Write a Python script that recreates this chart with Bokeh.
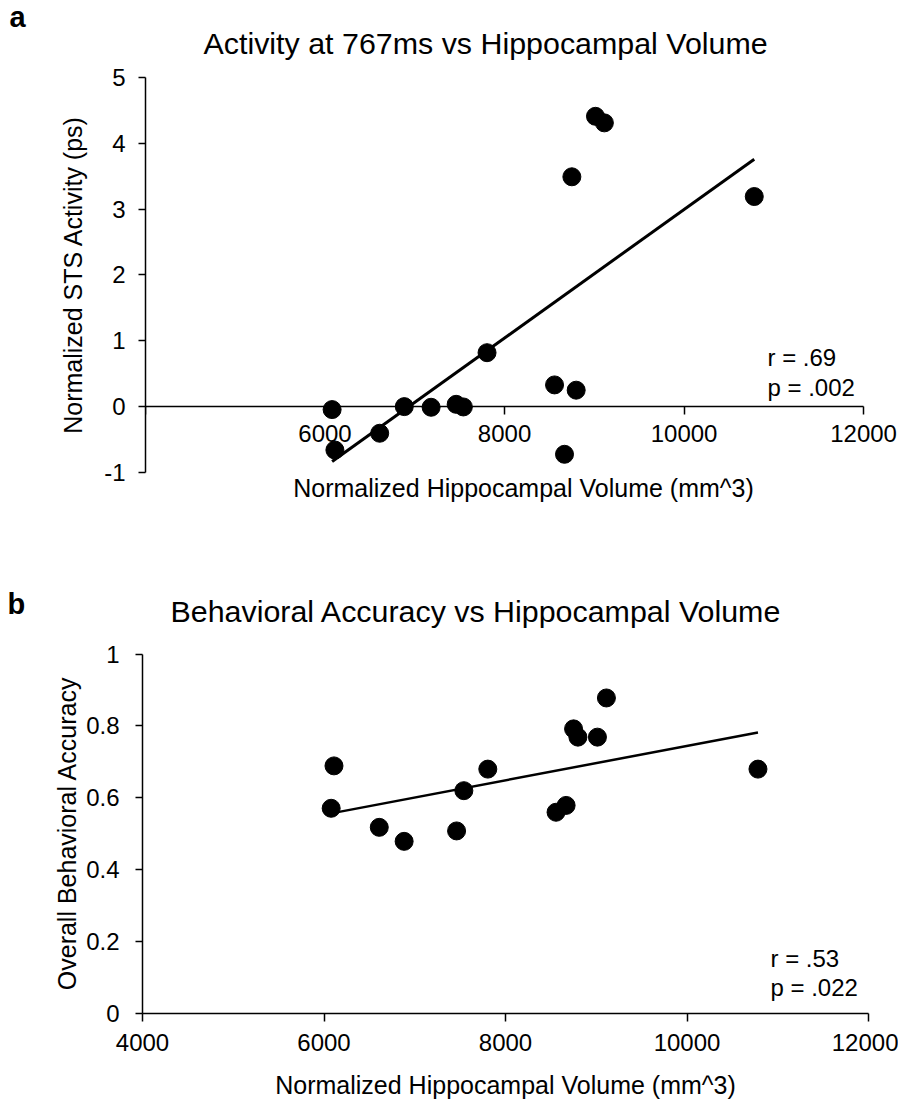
import numpy as np
from bokeh.plotting import figure
from bokeh.models import Range1d, FixedTicker, Label
from bokeh.layouts import column, row
from bokeh.embed import file_html
from bokeh.resources import INLINE

FONT = "Liberation Sans"

# ---------------- data ----------------
# Panel a: STS activity vs hippocampal volume (15 subjects)
volume_a = [6079, 6110, 6609, 6883, 7182, 7461, 7541, 7805, 8557, 8668, 8750, 8798, 9013, 9112, 10782]
sts_activity = [-0.05, -0.665, -0.41, -0.005, -0.015, 0.03, -0.01, 0.815, 0.325, -0.73, 3.49, 0.245, 4.41, 4.31, 3.19]

# Panel b: behavioral accuracy vs hippocampal volume (14 subjects)
volume_b = [6079, 6110, 6609, 6883, 7461, 7541, 7805, 8557, 8668, 8750, 8798, 9013, 9112, 10782]
accuracy = [0.571, 0.689, 0.518, 0.479, 0.508, 0.620, 0.680, 0.560, 0.579, 0.792, 0.769, 0.769, 0.878, 0.680]

x_ticks = [4000, 6000, 8000, 10000, 12000]
y_ticks_a = [-1, 0, 1, 2, 3, 4, 5]
y_tick_labels_a = ["-1", "0", "1", "2", "3", "4", "5"]
y_ticks_b = [0, 0.2, 0.4, 0.6, 0.8, 1]
y_tick_labels_b = ["0", "0.2", "0.4", "0.6", "0.8", "1"]

title_a = "Activity at 767ms vs Hippocampal Volume"
title_b = "Behavioral Accuracy vs Hippocampal Volume"
xlabel = "Normalized Hippocampal Volume (mm^3)"
ylabel_a = "Normalized STS Activity (ps)"
ylabel_b = "Overall Behavioral Accuracy"
stats_a = ["r = .69", "p = .002"]
stats_b = ["r = .53", "p = .022"]
panel_letters = ["a", "b"]

# plotting ranges (padded beyond the axes so that titles / labels sit inside the frame)
XR_A = (4000, 12400)
YR_A = (-1.6, 6.171)
XR_B = (4000, 12000)
YR_B = (0, 1.2577)
SIDE_W_A = 88   # width of the left strip holding panel letter + y-axis title
SIDE_W_B = 82


def base_style(p):
    p.outline_line_color = None
    p.grid.visible = False
    p.background_fill_color = "white"
    p.border_fill_color = "white"
    for ax in list(p.xaxis) + list(p.yaxis):
        ax.axis_line_color = "black"
        ax.axis_line_width = 1.5
        ax.major_tick_line_color = "black"
        ax.major_tick_line_width = 1.5
        ax.major_tick_in = 0
        ax.minor_tick_in = 0
        ax.minor_tick_out = 0
        ax.major_label_text_font = FONT
        ax.major_label_text_font_size = "24px"
        ax.major_label_text_color = "black"
        ax.axis_label_text_font = FONT
        ax.axis_label_text_font_size = "25px"
        ax.axis_label_text_font_style = "normal"
        ax.axis_label_text_color = "black"


def fit_line(x, y):
    k, b = np.polyfit(np.array(x, float), np.array(y, float), 1)
    xs = np.array([min(x), max(x)], float)
    return xs, k * xs + b


def text_label(x, y, dx, dy, text, size, bold=False, align="left", baseline="alphabetic", angle=0.0):
    return Label(x=x, y=y, x_offset=dx, y_offset=dy, text=text, text_font=FONT,
                 text_font_size=size, text_font_style="bold" if bold else "normal",
                 text_color="black", text_align=align, text_baseline=baseline,
                 angle=angle, level="overlay")


def side_figure(width, height, yr, letter, letter_y, letter_dx, letter_up, ylabel, ylabel_y, ylabel_x):
    f = figure(width=width, height=height, x_range=Range1d(0, width), y_range=Range1d(*yr),
               x_axis_type=None, y_axis_type=None, output_backend="svg", toolbar_location=None,
               min_border=0)
    f.outline_line_color = None
    f.grid.visible = False
    f.background_fill_color = "white"
    f.border_fill_color = "white"
    f.add_layout(text_label(0, letter_y, letter_dx, letter_up, letter, "29px", bold=True))
    f.add_layout(text_label(ylabel_x, ylabel_y, 0, 0, ylabel, "25px", align="center",
                            baseline="middle", angle=np.pi / 2))
    return f


# ---------------- panel a ----------------
pa = figure(frame_width=754, frame_height=511, x_range=Range1d(*XR_A), y_range=Range1d(*YR_A),
            output_backend="svg", toolbar_location=None,
            min_border_left=145 - SIDE_W_A, min_border_right=0, min_border_top=0, min_border_bottom=50)
base_style(pa)

xa = pa.xaxis[0]
xa.fixed_location = 0
xa.bounds = (x_ticks[0], x_ticks[-1])
xa.ticker = FixedTicker(ticks=x_ticks)
xa.major_label_overrides = {4000: ""}
xa.major_tick_out = 8
xa.major_label_standoff = 11
xa.axis_label = None

ya = pa.yaxis[0]
ya.bounds = (y_ticks_a[0], y_ticks_a[-1])
ya.ticker = FixedTicker(ticks=y_ticks_a)
ya.major_label_overrides = {t: s for t, s in zip(y_ticks_a, y_tick_labels_a)}
ya.major_tick_out = 7
ya.major_label_standoff = 13
ya.axis_label = None

lx, ly = fit_line(volume_a, sts_activity)
pa.line(lx, ly, line_color="black", line_width=3)
pa.scatter(volume_a, sts_activity, size=18, fill_color="black", line_color="black")

pa.add_layout(text_label(4000, 5, 58, 35, title_a, "30.4px"))
pa.add_layout(text_label(4000, -1, 378, -16, xlabel, "25px", align="center"))
for i, s in enumerate(stats_a):
    pa.add_layout(text_label(4000, 5, 622, -(280 + 30 * i), s, "24px"))

# ---------------- panel b ----------------
pb = figure(frame_width=726, frame_height=452, x_range=Range1d(*XR_B), y_range=Range1d(*YR_B),
            output_backend="svg", toolbar_location=None,
            min_border_left=142 - SIDE_W_B, min_border_right=30, min_border_top=0, min_border_bottom=87)
base_style(pb)

xb = pb.xaxis[0]
xb.ticker = FixedTicker(ticks=x_ticks)
xb.major_tick_out = 8
xb.major_label_standoff = 12
xb.axis_label = xlabel
xb.axis_label_standoff = 17

yb = pb.yaxis[0]
yb.bounds = (y_ticks_b[0], y_ticks_b[-1])
yb.ticker = FixedTicker(ticks=y_ticks_b)
yb.major_label_overrides = {t: s for t, s in zip(y_ticks_b, y_tick_labels_b)}
yb.major_tick_out = 7
yb.major_label_standoff = 16
yb.axis_label = None

lx, ly = fit_line(volume_b, accuracy)
pb.line(lx, ly, line_color="black", line_width=2.5)
pb.scatter(volume_b, accuracy, size=18, fill_color="black", line_color="black")

pb.add_layout(text_label(4000, 1, 28, 43, title_b, "30.4px"))
for i, s in enumerate(stats_b):
    pb.add_layout(text_label(4000, 1, 628, -(304 + 29 * i), s, "24px"))

sa = side_figure(SIDE_W_A, 561, YR_A, panel_letters[0], 5, 9, 61, ylabel_a,
                 (y_ticks_a[0] + y_ticks_a[-1]) / 2, 72)
sb = side_figure(SIDE_W_B, 539, YR_B, panel_letters[1], 1, 7, 50, ylabel_b,
                 (y_ticks_b[0] + y_ticks_b[-1]) / 2, 66)

layout = column(row(sa, pa, spacing=0), row(sb, pb, spacing=0), spacing=0)
open("out.html", "w").write(file_html(layout, INLINE))
